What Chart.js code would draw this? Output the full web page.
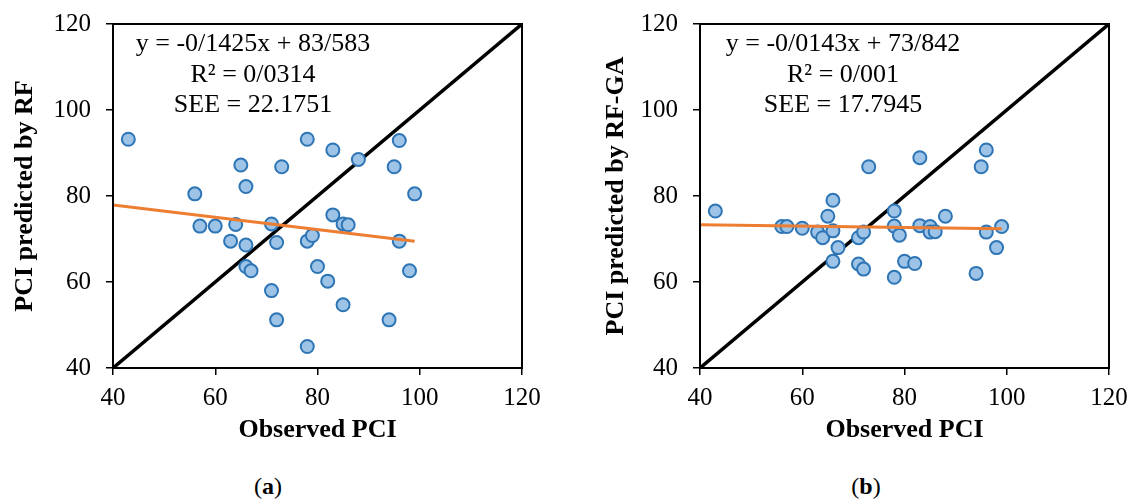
<!DOCTYPE html>
<html>
<head>
<meta charset="utf-8">
<script src="https://cdn.jsdelivr.net/npm/chart.js@4/dist/chart.umd.min.js"></script>
<style>
  body { margin: 0; background: #fff; width: 1136px; height: 501px; overflow: hidden; position: relative; }
  .panel { position: absolute; top: 0; }
  .tag { position: absolute; top: 473px; font: 24px "Liberation Serif", serif; color: #000; transform: translateX(-50%); }
</style>
</head>
<body>
<div class="panel" style="left:0"><canvas id="chart-rf" width="568" height="460"></canvas></div>
<div class="panel" style="left:568px"><canvas id="chart-ga" width="568" height="460"></canvas></div>
<div class="tag" style="left:268px">(<b>a</b>)</div>
<div class="tag" style="left:866px">(<b>b</b>)</div>
<script>
// observed PCI (shared by both panels)
const observed = [43, 56, 57, 60, 63, 64, 65, 66, 66, 66, 67, 71, 71, 72, 72, 73, 78, 78, 78, 79, 80, 82, 83, 83, 85, 85, 86, 88, 94, 95, 96, 96, 98, 99];
// predicted by RF
const predictedRF = [93.2, 80.5, 73, 73, 69.5, 73.4, 87.2, 82.2, 68.6, 63.6, 62.6, 73.5, 58, 69.2, 51.2, 86.8, 93.2, 69.5, 45, 70.8, 63.6, 60.2, 90.7, 75.6, 73.5, 54.7, 73.3, 88.5, 51.2, 86.8, 92.9, 69.5, 62.6, 80.5];
// predicted by RF-GA
const predictedGA = [76.5, 72.9, 72.9, 72.5, 71.6, 70.3, 75.3, 79, 71.9, 64.8, 68, 70.3, 64.2, 71.6, 63, 86.8, 76.5, 73, 61.1, 70.9, 64.8, 64.3, 88.9, 73.1, 72.9, 71.6, 71.7, 75.3, 62, 86.8, 90.7, 71.6, 68, 72.9];

// linear trendline end points and the 1:1 line
const trendX = [40, 99];
const trendRF = [77.9, 69.5];
const trendGA = [73.3, 72.4];
const identityLine = [40, 120];

const axisTicks = [40, 60, 80, 100, 120];
const statsRF = ["y = -0/1425x + 83/583", "R\u00b2 = 0/0314", "SEE = 22.1751"];
const statsGA = ["y = -0/0143x + 73/842", "R\u00b2 = 0/001", "SEE = 17.7945"];

const serif = "'Liberation Serif', 'Times New Roman', serif";

function toPoints(xs, ys) {
    return xs.map((x, i) => ({ x: x, y: ys[i] }));
}

// draws the box round the plot area and the regression text
const frameAndText = {
    id: "frameAndText",
    afterDatasetsDraw(chart, args, opts) {
        const { ctx, chartArea } = chart;
        ctx.save();
        ctx.strokeStyle = "#000";
        ctx.lineWidth = 2;
        ctx.strokeRect(chartArea.left, chartArea.top, chartArea.right - chartArea.left, chartArea.bottom - chartArea.top);
        ctx.fillStyle = "#000";
        ctx.font = "26px " + serif;
        ctx.textAlign = "center";
        ctx.textBaseline = "alphabetic";
        const baselines = [27, 58, 88];
        opts.lines.forEach((line, i) => {
            ctx.fillText(line, chartArea.left + opts.centre, chartArea.top + baselines[i]);
        });
        ctx.restore();
    }
};

function makeChart(id, values, trendY, yTitle, stats, axisWidth, padRight, titlePad, centre) {
    const ctx = document.getElementById(id).getContext("2d");
    return new Chart(ctx, {
        type: "scatter",
        data: {
            datasets: [
                {
                    type: "line",
                    data: toPoints(trendX, trendY),
                    borderColor: "#ed7d31",
                    borderWidth: 3,
                    pointRadius: 0,
                    order: 0
                },
                {
                    data: toPoints(observed, values),
                    backgroundColor: "#9dc3e6",
                    borderColor: "#2e75b6",
                    borderWidth: 2,
                    pointRadius: 6.5,
                    order: 1
                },
                {
                    type: "line",
                    data: toPoints(identityLine, identityLine),
                    borderColor: "#000",
                    borderWidth: 3.5,
                    pointRadius: 0,
                    order: 2
                }
            ]
        },
        options: {
            responsive: false,
            animation: false,
            layout: { padding: { left: 0, top: 24, right: padRight, bottom: 0 } },
            plugins: {
                legend: { display: false },
                tooltip: { enabled: false },
                frameAndText: { lines: stats, centre: centre }
            },
            scales: {
                x: {
                    type: "linear",
                    min: 40,
                    max: 120,
                    afterBuildTicks: s => { s.ticks = axisTicks.map(v => ({ value: v })); },
                    afterFit: s => { s.height = 92; },
                    grid: { drawOnChartArea: false, drawTicks: true, tickLength: 7, color: "#000", lineWidth: 1.5 },
                    border: { display: false },
                    ticks: { color: "#000", padding: 8, maxRotation: 0, font: { family: serif, size: 25 } },
                    title: {
                        display: true,
                        text: "Observed PCI",
                        color: "#000",
                        padding: { top: 0, bottom: 14 },
                        font: { family: serif, size: 26, weight: "bold" }
                    }
                },
                y: {
                    type: "linear",
                    min: 40,
                    max: 120,
                    afterBuildTicks: s => { s.ticks = axisTicks.map(v => ({ value: v })); },
                    afterFit: s => {
                        s.width = axisWidth;
                        s.paddingTop = 12;
                        s.paddingBottom = 12;
                    },
                    grid: { drawOnChartArea: false, drawTicks: true, tickLength: 7, color: "#000", lineWidth: 1.5 },
                    border: { display: false },
                    ticks: { color: "#000", padding: 15, font: { family: serif, size: 25 } },
                    title: {
                        display: true,
                        text: yTitle,
                        color: "#000",
                        padding: { top: titlePad, bottom: 0 },
                        font: { family: serif, size: 26, weight: "bold" }
                    }
                }
            }
        },
        plugins: [frameAndText]
    });
}

makeChart("chart-rf", predictedRF, trendRF, "PCI predicted by RF", statsRF, 113, 46, 10, 140);
makeChart("chart-ga", predictedGA, trendGA, "PCI predicted by RF-GA", statsGA, 132, 27, 33, 143);
</script>
</body>
</html>
